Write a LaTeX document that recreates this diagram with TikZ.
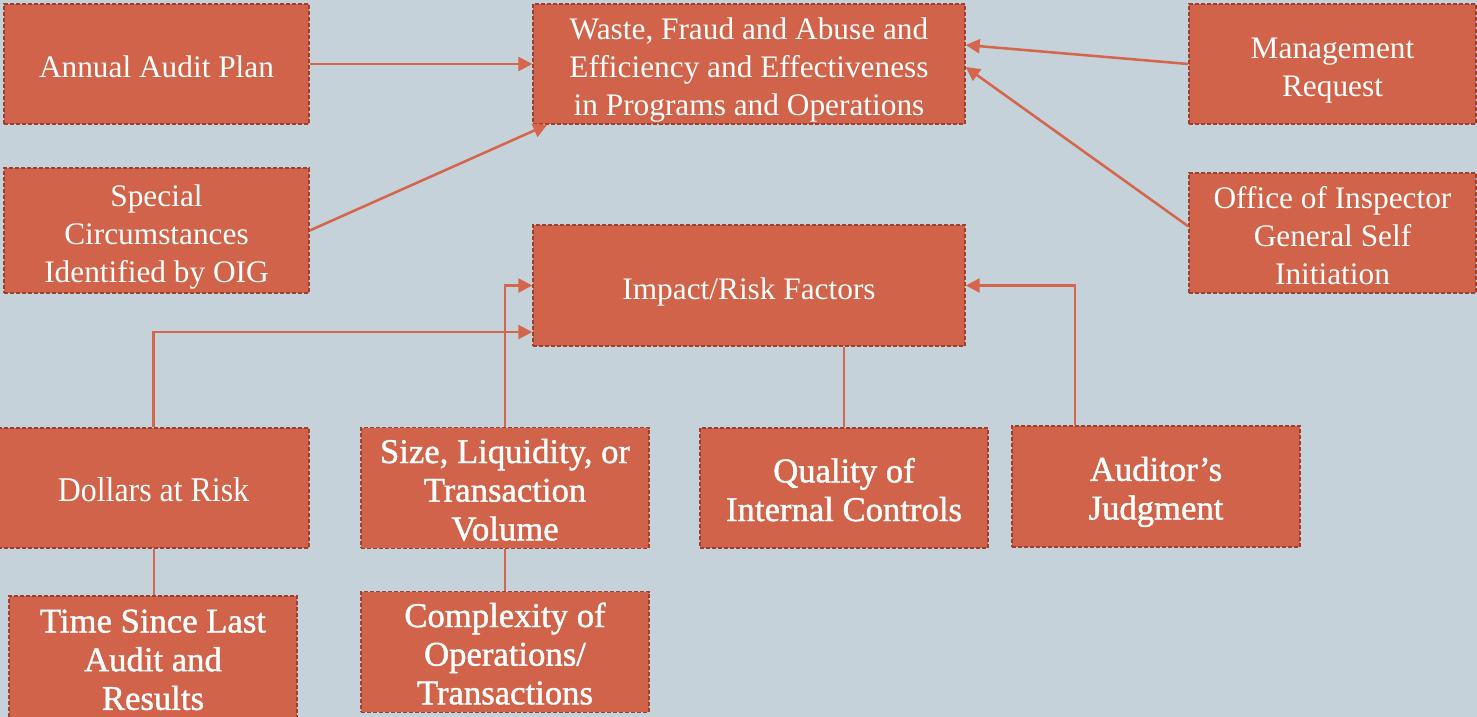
\documentclass[tikz,border=0pt]{standalone}
\usepackage{fontspec}
\setmainfont{Liberation Serif}
\newfontfamily\lowerfont[FakeBold=1.2]{Liberation Serif}
\newfontfamily\lowerplain[FakeStretch=0.92]{Liberation Serif}
\usetikzlibrary{arrows.meta,calc}
\definecolor{bg}{RGB}{197,210,217}
\definecolor{boxfill}{RGB}{209,99,74}
\definecolor{boxedge}{RGB}{158,64,47}
\definecolor{link}{RGB}{214,101,77}
% fixed first-line height and last-line depth, so every label sits alike
\newcommand\hs{\rule{0pt}{26.5pt}}
\newcommand\ds{\rule[-6pt]{0pt}{6pt}}
\tikzset{
  box/.style={draw=boxedge, fill=boxfill, line width=1.1pt,
    dash pattern=on 3pt off 1.5pt, text=white, align=center,
    inner sep=0pt, font=\fontsize{23.5}{28.5}\selectfont},
  lowbox/.style={box, font=\lowerfont\fontsize{26}{29}\selectfont},
  arr/.style={draw=link, line width=1.9pt,
    -{Triangle[length=10.5pt,width=10.5pt]}},
  tie/.style={draw=link, line width=1.5pt}
}
\begin{document}
\begin{tikzpicture}[x=0.75pt,y=-0.75pt]
\fill[bg] (0,0) rectangle (1477,717);
\useasboundingbox (0,0) rectangle (1477,717);

% upper row: sources of audit work
\node[box, minimum width=228.75pt, minimum height=90pt] (annual) at (156.5,64) {\hs Annual Audit Plan\ds};
\node[box, minimum width=228.75pt, minimum height=93.75pt] (special) at (156.5,230.5) {\hs Special\\Circumstances\\Identified by OIG\ds};
\node[box, minimum width=324pt, minimum height=90pt] (waste) at (749,64) {\hs Waste, Fraud and Abuse and\\Efficiency and Effectiveness\\in Programs and Operations\ds};
\node[box, minimum width=324pt, minimum height=90.75pt] (impact) at (749,285.5) {\hs Impact/Risk Factors\ds};
\node[box, minimum width=215.25pt, minimum height=90pt] (mgmt) at (1332.5,64) {\hs Management\\Request\ds};
\node[box, minimum width=215.25pt, minimum height=90pt] (office) at (1332.5,233) {\hs Office of Inspector\\General Self\\Initiation\ds};

% lower rows: risk factors
\node[lowbox, font=\lowerplain\fontsize{26}{29}\selectfont, minimum width=233.25pt, minimum height=90pt] (dollars) at (153.5,488) {\hs Dollars at Risk\ds};
\node[lowbox, minimum width=216pt, minimum height=90pt] (size) at (505,488) {\hs Size, Liquidity, or\\Transaction\\Volume\ds};
\node[lowbox, minimum width=216pt, minimum height=90pt] (quality) at (844,488) {\hs Quality of\\Internal Controls\ds};
\node[lowbox, minimum width=216pt, minimum height=90.75pt] (auditor) at (1156,486.5) {\hs Auditor’s\\Judgment\ds};
\node[lowbox, minimum width=216pt, minimum height=92.25pt] (time) at (153,657.5) {\hs Time Since Last\\Audit and\\Results\ds};
\node[lowbox, minimum width=216pt, minimum height=90pt] (complex) at (505,652) {\hs Complexity of\\Operations/\\Transactions\ds};

% connectors into the audit focus
\draw[arr] (annual.east) -- (waste.west);
\draw[arr] (special.east) -- ([xshift=11.25pt]waste.south west);
\draw[arr] (mgmt.west) -- ([yshift=14.25pt]waste.east);
\draw[arr] ([yshift=5pt]office.west) -- ([yshift=-2.25pt]waste.east);

% connectors into the risk factors
\draw[arr] (size.north) |- (impact.west);
\draw[arr] (dollars.north) |- ([yshift=-34.9pt]impact.west);
\draw[arr] ([xshift=-60.75pt]auditor.north) |- (impact.east);
\draw[tie, line width=1.9pt] (quality.north) -- (quality.north |- impact.south);
\draw[tie] (dollars.south) -- (dollars.south |- time.north);
\draw[tie] (size.south) -- (complex.north);
\end{tikzpicture}
\end{document}
